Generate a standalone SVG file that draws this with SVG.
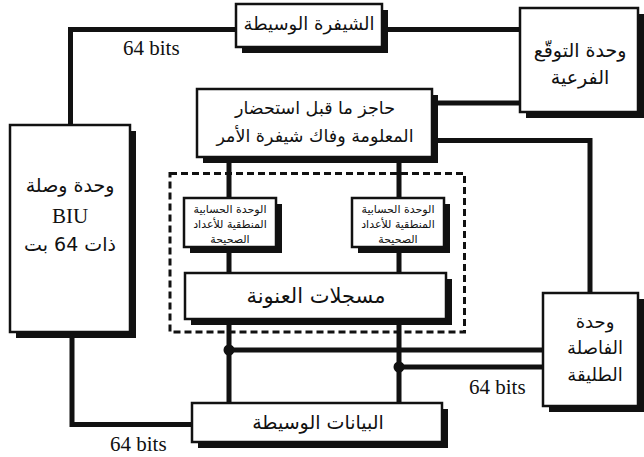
<svg xmlns="http://www.w3.org/2000/svg" width="644" height="457" viewBox="0 0 644 457">
<style>
.bx{fill:#fff;stroke:#111;stroke-width:2.5}
.sh{fill:#111}
.ln{stroke:#111;stroke-width:5;fill:none}
.ar{font-family:"DejaVu Sans",sans-serif;fill:#111;text-anchor:middle;direction:rtl}
.en{font-family:"Liberation Serif",serif;font-size:21px;fill:#111}
.sm{font-size:11px}
</style>
<rect width="644" height="457" fill="#fff"/>
<g id="connectors">
<path class="ln" d="M70.5,125 V29.5 H236"/>
<path class="ln" d="M382,29.5 H520"/>
<path class="ln" d="M432,103 H520"/>
<path class="ln" d="M432,140.5 H590 V293"/>
<path class="ln" d="M229,157 V198 M229,247 V273 M229,319 V403"/>
<path class="ln" d="M399,157 V198 M399,247 V273 M399,319 V403"/>
<path class="ln" d="M229,350 H543"/>
<path class="ln" d="M399,367 H543"/>
<circle cx="229" cy="350" r="5.5" fill="#111"/>
<circle cx="399" cy="367" r="5.5" fill="#111"/>
<path class="ln" d="M72,332 V424.5 H192"/>
</g>
<g id="int-cluster">
<rect x="170" y="173.5" width="294.5" height="158.5" fill="none" stroke="#111" stroke-width="3" stroke-dasharray="7 4"/>
</g>
<g id="code-cache">
<rect class="sh" x="242" y="10" width="146" height="43"/>
<rect class="bx" x="236" y="4" width="146" height="43"/>
<text class="ar" font-size="18" x="309" y="30">الشيفرة الوسيطة</text>
</g>
<g id="branch-unit">
<rect class="sh" x="526" y="14" width="118" height="104"/>
<rect class="bx" x="520" y="8" width="118" height="104"/>
<text class="ar" font-size="19" x="580" y="57">وحدة التوقّع</text>
<text class="ar" font-size="19" x="580" y="84">الفرعية</text>
</g>
<g id="prefetch">
<rect class="sh" x="203" y="95" width="235" height="68"/>
<rect class="bx" x="197" y="89" width="235" height="68"/>
<text class="ar" font-size="17.5" x="315" y="114">حاجز ما قبل استحضار</text>
<text class="ar" font-size="17.5" x="315" y="142">المعلومة وفاك شيفرة الأمر</text>
</g>
<g id="biu">
<rect class="sh" x="16" y="131" width="120" height="207"/>
<rect class="bx" x="10" y="125" width="120" height="207"/>
<text class="ar" font-size="19" x="70" y="192">وحدة وصلة</text>
<text class="en" x="70" y="223" text-anchor="middle" font-size="20">BIU</text>
<text class="ar" font-size="19" x="70" y="251">ذات 64 بت</text>
</g>
<g id="alu1">
<rect class="sh" x="190" y="204" width="92" height="49"/>
<rect class="bx" x="184" y="198" width="92" height="49"/>
<text class="ar sm" x="230" y="213">الوحدة الحسابية</text>
<text class="ar sm" x="230" y="228">المنطقية للأعداد</text>
<text class="ar sm" x="230" y="243">الصحيحة</text>
</g>
<g id="alu2">
<rect class="sh" x="358" y="204" width="92" height="49"/>
<rect class="bx" x="352" y="198" width="92" height="49"/>
<text class="ar sm" x="398" y="213">الوحدة الحسابية</text>
<text class="ar sm" x="398" y="228">المنطقية للأعداد</text>
<text class="ar sm" x="398" y="243">الصحيحة</text>
</g>
<g id="addr-regs">
<rect class="sh" x="191" y="279" width="261" height="46"/>
<rect class="bx" x="185" y="273" width="261" height="46"/>
<text class="ar" font-size="21" x="316" y="303">مسجلات العنونة</text>
</g>
<g id="fpu">
<rect class="sh" x="549" y="299" width="95" height="113"/>
<rect class="bx" x="543" y="293" width="95" height="113"/>
<text class="ar" font-size="18" x="595" y="328">وحدة</text>
<text class="ar" font-size="18" x="595" y="354">الفاصلة</text>
<text class="ar" font-size="18" x="595" y="381">الطليقة</text>
</g>
<g id="data-cache">
<rect class="sh" x="198" y="409" width="250" height="39"/>
<rect class="bx" x="192" y="403" width="250" height="39"/>
<text class="ar" font-size="19" x="318" y="429">البيانات الوسيطة</text>
</g>
<g id="labels">
<text class="en" x="123" y="55">64 bits</text>
<text class="en" x="469" y="394">64 bits</text>
<text class="en" x="110" y="451">64 bits</text>
</g>
</svg>
